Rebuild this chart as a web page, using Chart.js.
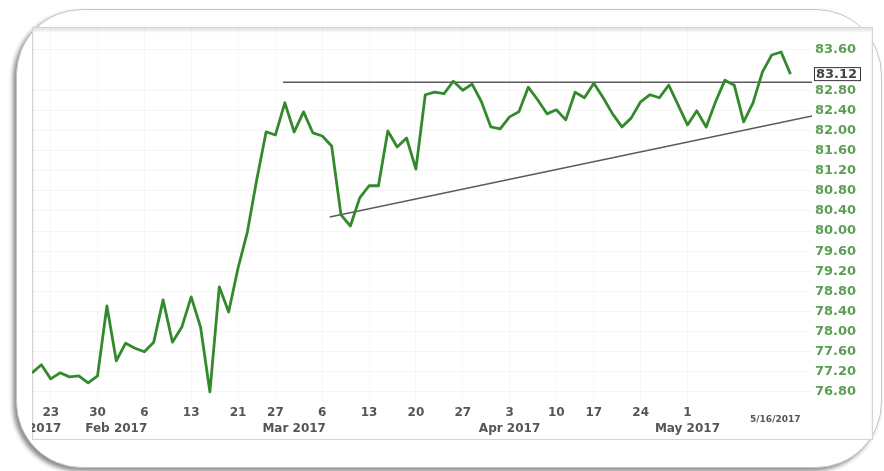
<!DOCTYPE html>
<html>
<head>
<meta charset="utf-8">
<script src="https://cdn.jsdelivr.net/npm/chart.js@4.4.1/dist/chart.umd.min.js"></script>
<style>
    html, body { margin: 0; padding: 0; background: #fff; }
    body { width: 884px; height: 471px; position: relative; overflow: hidden; }
    .frame {
        position: absolute; left: 16px; top: 9px; width: 864px; height: 457px;
        border: 1px solid #c4c4c4; border-radius: 66px; background: #fff;
        box-shadow: -3px 3px 4px rgba(0, 0, 0, 0.45);
    }
    .plotbox {
        position: absolute; left: 32px; top: 27px; width: 841px; height: 413px;
        border: 1px solid #d4d4d4; box-sizing: border-box; background: #fff;
        box-shadow: inset 0 3px 3px rgba(0, 0, 0, 0.10);
    }
    #mychart { position: absolute; left: 32px; top: 27px; }
</style>
</head>
<body>
<div class="frame"></div>
<div class="plotbox"></div>
<canvas id="mychart" width="841" height="413"></canvas>
<script>
// trading days shown on the chart (2017)
const dates = [
    '1/19', '1/20', '1/23', '1/24', '1/25', '1/26', '1/27', '1/30', '1/31',
    '2/1', '2/2', '2/3', '2/6', '2/7', '2/8', '2/9', '2/10', '2/13', '2/14', '2/15', '2/16', '2/17',
    '2/21', '2/22', '2/23', '2/24', '2/27', '2/28',
    '3/1', '3/2', '3/3', '3/6', '3/7', '3/8', '3/9', '3/10', '3/13', '3/14', '3/15', '3/16', '3/17',
    '3/20', '3/21', '3/22', '3/23', '3/24', '3/27', '3/28', '3/29', '3/30', '3/31',
    '4/3', '4/4', '4/5', '4/6', '4/7', '4/10', '4/11', '4/12', '4/13',
    '4/17', '4/18', '4/19', '4/20', '4/21', '4/24', '4/25', '4/26', '4/27', '4/28',
    '5/1', '5/2', '5/3', '5/4', '5/5', '5/8', '5/9', '5/10', '5/11', '5/12', '5/15', '5/16'
];

// closing prices
const closes = [
    77.18, 77.34, 77.06, 77.18, 77.10, 77.12, 76.98, 77.12, 78.51,
    77.42, 77.77, 77.67, 77.60, 77.79, 78.63, 77.79, 78.09, 78.69, 78.09, 76.80, 78.89,
    78.39, 79.26, 79.98, 81.02, 81.97, 81.91,
    82.55, 81.97, 82.37, 81.95, 81.89, 81.69, 80.32, 80.10, 80.66, 80.90, 80.90,
    81.99, 81.67, 81.85, 81.23, 82.71, 82.76, 82.73, 82.98, 82.80, 82.92, 82.57, 82.07,
    82.03, 82.27, 82.37, 82.86, 82.61, 82.33, 82.41, 82.21, 82.76,
    82.65, 82.94, 82.65, 82.33, 82.07, 82.25, 82.57, 82.71, 82.65, 82.90,
    82.51, 82.11, 82.39, 82.07, 82.57, 83.00, 82.90, 82.17, 82.55, 83.16, 83.50, 83.56, 83.12
];

// axis ticks
const dayTickDates = ['1/23', '1/30', '2/6', '2/13', '2/21', '2/27', '3/6', '3/13', '3/20', '3/27',
    '4/3', '4/10', '4/17', '4/24', '5/1'];
const dayTickLabels = ['23', '30', '6', '13', '21', '27', '6', '13', '20', '27', '3', '10', '17', '24', '1'];
const monthTickDates = ['1/19', '2/1', '3/1', '4/3', '5/1'];
const monthTickLabels = ['Jan 2017', 'Feb 2017', 'Mar 2017', 'Apr 2017', 'May 2017'];
const priceTicks = [83.60, 82.80, 82.40, 82.00, 81.60, 81.20, 80.80, 80.40, 80.00,
    79.60, 79.20, 78.80, 78.40, 78.00, 77.60, 77.20, 76.80];
const lastDateLabel = '5/16/2017';

// drawn trend lines, [trading day index, price]
const resistanceLine = [[26.8, 82.96], [83.3, 82.96]];
const supportLine = [[31.8, 80.28], [83.3, 82.29]];

const xMax = 83.3;
const font = 'DejaVu Sans';

const dayTickIdx = dayTickDates.map(d => dates.indexOf(d));
const monthTickIdx = monthTickDates.map(d => dates.indexOf(d));

// last price box + date stamp
const extrasPlugin = {
    id: 'extras',
    afterDraw(chart) {
        const ctx = chart.ctx;
        const x = chart.scales.x;
        const y = chart.scales.y;
        const last = closes[closes.length - 1];
        const py = y.getPixelForValue(last);
        ctx.save();
        ctx.font = 'bold 13px ' + font;
        ctx.textBaseline = 'middle';
        ctx.textAlign = 'left';
        ctx.fillStyle = '#fff';
        ctx.fillRect(y.left + 2, py - 6, 46, 13);
        ctx.strokeStyle = '#333';
        ctx.lineWidth = 1;
        ctx.strokeRect(y.left + 2.5, py - 6.5, 46, 13);
        ctx.fillStyle = '#444';
        ctx.fillText(last.toFixed(2), y.left + 4, py + 1);

        ctx.font = 'bold 9px ' + font;
        ctx.fillStyle = '#555';
        ctx.textAlign = 'right';
        ctx.fillText(lastDateLabel, x.getPixelForValue(dates.length - 1) + 10, chart.chartArea.bottom + 18);
        ctx.restore();
    }
};

new Chart(document.getElementById('mychart'), {
    type: 'line',
    data: {
        datasets: [
            {
                label: 'Close',
                data: closes.map((v, i) => ({ x: i, y: v })),
                borderColor: '#338a2c',
                borderWidth: 2.8,
                borderJoinStyle: 'round',
                pointRadius: 0,
                tension: 0
            },
            {
                label: 'Resistance',
                data: resistanceLine.map(p => ({ x: p[0], y: p[1] })),
                borderColor: '#5a5a5a',
                borderWidth: 1.5,
                pointRadius: 0
            },
            {
                label: 'Support',
                data: supportLine.map(p => ({ x: p[0], y: p[1] })),
                borderColor: '#5a5a5a',
                borderWidth: 1.5,
                pointRadius: 0
            }
        ]
    },
    options: {
        responsive: false,
        animation: false,
        layout: { padding: 0 },
        plugins: {
            legend: { display: false },
            tooltip: { enabled: false }
        },
        scales: {
            x: {
                type: 'linear',
                min: 0,
                max: xMax,
                grid: { color: 'rgba(0,0,0,0.035)', drawTicks: false },
                border: { display: false },
                ticks: {
                    autoSkip: false,
                    maxRotation: 0,
                    padding: 4,
                    color: '#555',
                    font: { family: font, size: 12, weight: 'bold' },
                    callback: v => dayTickLabels[dayTickIdx.indexOf(v)]
                },
                afterBuildTicks: s => { s.ticks = dayTickIdx.map(v => ({ value: v })); },
                afterFit: s => { s.height = 20; s.paddingLeft = 0; s.paddingRight = 0; }
            },
            x2: {
                type: 'linear',
                position: 'bottom',
                min: 0,
                max: xMax,
                grid: { display: false, drawTicks: false },
                border: { display: false },
                ticks: {
                    autoSkip: false,
                    maxRotation: 0,
                    padding: 0,
                    color: '#555',
                    font: { family: font, size: 12, weight: 'bold' },
                    callback: v => monthTickLabels[monthTickIdx.indexOf(v)]
                },
                afterBuildTicks: s => { s.ticks = monthTickIdx.map(v => ({ value: v })); },
                afterFit: s => { s.height = 18; s.paddingLeft = 0; s.paddingRight = 0; }
            },
            y: {
                position: 'right',
                min: 76.60,
                max: 84.057,
                grid: { color: 'rgba(0,0,0,0.035)', drawTicks: false },
                border: { display: false },
                ticks: {
                    padding: 3,
                    color: '#5b9e54',
                    font: { family: font, size: 13, weight: 'bold' },
                    callback: v => v.toFixed(2)
                },
                afterBuildTicks: s => { s.ticks = priceTicks.map(v => ({ value: v })); },
                afterFit: s => { s.width = 61; s.paddingTop = 0; s.paddingBottom = 0; }
            }
        }
    },
    plugins: [extrasPlugin]
});
</script>
</body>
</html>
